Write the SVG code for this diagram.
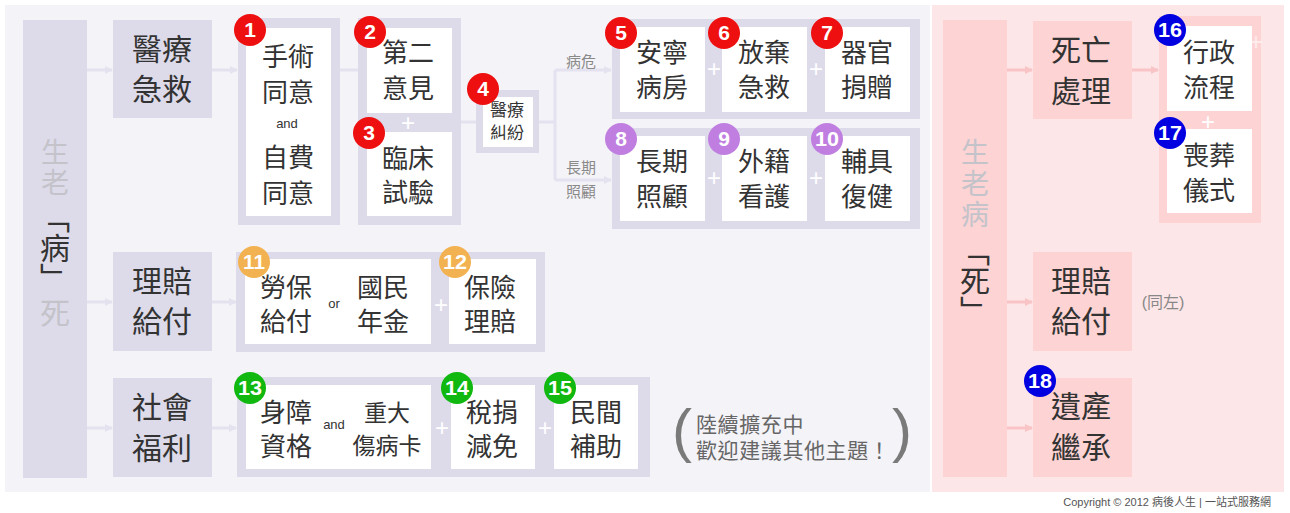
<svg xmlns="http://www.w3.org/2000/svg" width="1290" height="513" viewBox="0 0 1290 513">
<defs>
<style>
.t{font-family:'Liberation Sans','Noto Sans CJK TC',sans-serif;fill:#333;text-anchor:middle}
.s30{font-size:30px}.s28{font-size:28px}.s26{font-size:26px}.s23{font-size:23px}.s17{font-size:17px}.s13{font-size:13px}
.gray{fill:#c4c3ca}
.vert{font-family:'Noto Sans CJK TC',sans-serif;fill:#333;font-size:30px;writing-mode:vertical-rl;text-anchor:start}
.lbl{font-family:'Liberation Sans','Noto Sans CJK TC',sans-serif;fill:#8a8a8a;text-anchor:middle;font-size:15px}
.node{fill:#dddbea}.pnode{fill:#fdd3d4}
.box{fill:#fff}
.plus{font-family:'Liberation Sans',sans-serif;fill:#fff;font-size:24px;text-anchor:middle}
.bn{font-family:'Liberation Sans',sans-serif;font-weight:bold;fill:#fff;font-size:21px;text-anchor:middle}
.red{fill:#ee1010}.pur{fill:#c07fe0}.org{fill:#f3b251}.grn{fill:#10b810}.blu{fill:#0000e0}
.cL{stroke:#e4e2ef;stroke-width:3;fill:none}
.cP{stroke:#f8c4c6;stroke-width:3;fill:none}
</style>
<marker id="aL" viewBox="0 0 8 8" refX="7" refY="4" markerWidth="8" markerHeight="8" markerUnits="userSpaceOnUse" orient="auto"><path d="M0,0 L8,4 L0,8 z" fill="#e4e2ef"/></marker>
<marker id="aP" viewBox="0 0 8 8" refX="7" refY="4" markerWidth="8" markerHeight="8" markerUnits="userSpaceOnUse" orient="auto"><path d="M0,0 L8,4 L0,8 z" fill="#f8c4c6"/></marker>
</defs>
<rect width="1290" height="513" fill="#fff"/>
<rect x="5" y="5" width="925" height="487" fill="#f4f3f8"/>
<rect x="932" y="5" width="352" height="487" fill="#fde6e7"/>

<g id="connectors">
<path class="cL" d="M87,70 H112" marker-end="url(#aL)"/>
<path class="cL" d="M212,70 H237" marker-end="url(#aL)"/>
<path class="cL" d="M340,70 H358"/>
<path class="cL" d="M461,122 H476"/>
<path class="cL" d="M539,122 H555 M555,70 V180"/>
<path class="cL" d="M555,70 H611" marker-end="url(#aL)"/>
<path class="cL" d="M555,180 H611" marker-end="url(#aL)"/>
<path class="cL" d="M87,302 H112" marker-end="url(#aL)"/>
<path class="cL" d="M212,302 H236" marker-end="url(#aL)"/>
<path class="cL" d="M87,428 H112" marker-end="url(#aL)"/>
<path class="cL" d="M212,428 H236" marker-end="url(#aL)"/>
<path class="cP" d="M1007,70 H1032" marker-end="url(#aP)"/>
<path class="cP" d="M1132,70 H1158" marker-end="url(#aP)"/>
<path class="cP" d="M1007,302 H1032" marker-end="url(#aP)"/>
<path class="cP" d="M1007,428 H1032" marker-end="url(#aP)"/>
</g>

<g id="bar-left">
<rect class="node" x="23" y="20" width="64" height="458"/>
<text class="t s28 gray" x="55" y="163">生</text>
<text class="t s28 gray" x="55" y="193">老</text>
<text class="vert" x="55" y="203">「病」</text>
<text class="t s30 gray" x="55" y="324">死</text>
</g>

<g id="n-emergency">
<rect class="node" x="113" y="20" width="99" height="98"/>
<text class="t s30" x="162" y="60">醫療</text>
<text class="t s30" x="162" y="100">急救</text>
</g>

<g id="g1">
<rect class="node" x="238" y="18" width="102" height="207"/>
<rect class="box" x="246" y="28" width="85" height="188"/>
<text class="t s26" x="288" y="66">手術</text>
<text class="t s26" x="288" y="102">同意</text>
<text class="t s13" x="287" y="128">and</text>
<text class="t s26" x="288" y="167">自費</text>
<text class="t s26" x="288" y="203">同意</text>
<circle class="red" cx="250" cy="30" r="16"/><text class="bn" x="250" y="37">1</text>
</g>

<g id="g2">
<rect class="node" x="358" y="18" width="103" height="207"/>
<rect class="box" x="367" y="28" width="85" height="85"/>
<rect class="box" x="367" y="132" width="85" height="84"/>
<text class="plus" x="408" y="131">+</text>
<text class="t s26" x="408" y="62">第二</text>
<text class="t s26" x="408" y="98">意見</text>
<text class="t s26" x="408" y="168">臨床</text>
<text class="t s26" x="408" y="202">試驗</text>
<circle class="red" cx="370" cy="32" r="16"/><text class="bn" x="370" y="39">2</text>
<circle class="red" cx="369" cy="133" r="16"/><text class="bn" x="369" y="140">3</text>
</g>

<g id="g4">
<rect class="node" x="476" y="90" width="63" height="63"/>
<rect class="box" x="483" y="97" width="50" height="50"/>
<text class="t s17" x="507" y="116">醫療</text>
<text class="t s17" x="507" y="139">糾紛</text>
<circle class="red" cx="483" cy="89" r="16"/><text class="bn" x="483" y="96">4</text>
</g>

<g id="branch-labels">
<text class="lbl" x="581" y="67">病危</text>
<text class="lbl" x="581" y="173">長期</text>
<text class="lbl" x="581" y="197">照顧</text>
</g>

<g id="g5">
<rect class="node" x="612" y="19" width="308" height="100"/>
<rect class="box" x="620" y="27" width="85" height="85"/>
<rect class="box" x="722" y="27" width="85" height="85"/>
<rect class="box" x="825" y="27" width="85" height="85"/>
<text class="plus" x="714" y="77">+</text>
<text class="plus" x="816" y="77">+</text>
<text class="t s26" x="662" y="62">安寧</text>
<text class="t s26" x="662" y="97">病房</text>
<text class="t s26" x="764" y="62">放棄</text>
<text class="t s26" x="764" y="97">急救</text>
<text class="t s26" x="867" y="62">器官</text>
<text class="t s26" x="867" y="97">捐贈</text>
<circle class="red" cx="621" cy="33" r="16"/><text class="bn" x="621" y="40">5</text>
<circle class="red" cx="724" cy="33" r="16"/><text class="bn" x="724" y="40">6</text>
<circle class="red" cx="827" cy="33" r="16"/><text class="bn" x="827" y="40">7</text>
</g>

<g id="g8">
<rect class="node" x="612" y="128" width="308" height="101"/>
<rect class="box" x="620" y="136" width="85" height="85"/>
<rect class="box" x="722" y="136" width="85" height="85"/>
<rect class="box" x="825" y="136" width="85" height="85"/>
<text class="plus" x="714" y="186">+</text>
<text class="plus" x="816" y="186">+</text>
<text class="t s26" x="662" y="171">長期</text>
<text class="t s26" x="662" y="206">照顧</text>
<text class="t s26" x="764" y="171">外籍</text>
<text class="t s26" x="764" y="206">看護</text>
<text class="t s26" x="867" y="171">輔具</text>
<text class="t s26" x="867" y="206">復健</text>
<circle class="pur" cx="621" cy="139" r="16"/><text class="bn" x="621" y="146">8</text>
<circle class="pur" cx="724" cy="139" r="16"/><text class="bn" x="724" y="146">9</text>
<circle class="pur" cx="827" cy="139" r="16"/><text class="bn" x="827" y="146" textLength="24" lengthAdjust="spacingAndGlyphs">10</text>
</g>

<g id="n-claims">
<rect class="node" x="113" y="252" width="99" height="99"/>
<text class="t s30" x="162" y="292">理賠</text>
<text class="t s30" x="162" y="332">給付</text>
</g>

<g id="g11">
<rect class="node" x="236" y="252" width="309" height="100"/>
<rect class="box" x="245" y="259" width="186" height="85"/>
<rect class="box" x="449" y="259" width="87" height="85"/>
<text class="plus" x="441" y="313">+</text>
<text class="t s26" x="286" y="297">勞保</text>
<text class="t s26" x="286" y="331">給付</text>
<text class="t s13" x="334" y="308">or</text>
<text class="t s26" x="383" y="297">國民</text>
<text class="t s26" x="383" y="331">年金</text>
<text class="t s26" x="490" y="297">保險</text>
<text class="t s26" x="490" y="331">理賠</text>
<circle class="org" cx="254" cy="262" r="16"/><text class="bn" x="254" y="269" textLength="22" lengthAdjust="spacingAndGlyphs">11</text>
<circle class="org" cx="455" cy="262" r="16"/><text class="bn" x="455" y="269" textLength="24" lengthAdjust="spacingAndGlyphs">12</text>
</g>

<g id="n-welfare">
<rect class="node" x="113" y="378" width="99" height="99"/>
<text class="t s30" x="162" y="418">社會</text>
<text class="t s30" x="162" y="459">福利</text>
</g>

<g id="g13">
<rect class="node" x="237" y="377" width="413" height="100"/>
<rect class="box" x="246" y="385" width="185" height="84"/>
<rect class="box" x="451" y="385" width="84" height="84"/>
<rect class="box" x="554" y="385" width="84" height="84"/>
<text class="plus" x="442" y="436">+</text>
<text class="plus" x="545" y="436">+</text>
<text class="t s26" x="286" y="422">身障</text>
<text class="t s26" x="286" y="456">資格</text>
<text class="t s13" x="334" y="429">and</text>
<text class="t s23" x="387" y="421">重大</text>
<text class="t s23" x="387" y="454">傷病卡</text>
<text class="t s26" x="492" y="422">稅捐</text>
<text class="t s26" x="492" y="456">減免</text>
<text class="t s26" x="596" y="422">民間</text>
<text class="t s26" x="596" y="456">補助</text>
<circle class="grn" cx="250" cy="388" r="16"/><text class="bn" x="250" y="395" textLength="24" lengthAdjust="spacingAndGlyphs">13</text>
<circle class="grn" cx="457" cy="388" r="16"/><text class="bn" x="457" y="395" textLength="24" lengthAdjust="spacingAndGlyphs">14</text>
<circle class="grn" cx="560" cy="388" r="16"/><text class="bn" x="560" y="395" textLength="24" lengthAdjust="spacingAndGlyphs">15</text>
</g>

<g id="note">
<text x="672" y="451" font-family="'Liberation Sans',sans-serif" font-size="60" fill="#7a7a7a">(</text>
<text x="696" y="432" font-family="'Liberation Sans','Noto Sans CJK TC',sans-serif" font-size="21" fill="#666" letter-spacing="0.6">陸續擴充中</text>
<text x="696" y="458" font-family="'Liberation Sans','Noto Sans CJK TC',sans-serif" font-size="21" fill="#666" letter-spacing="0.6">歡迎建議其他主題！</text>
<text x="892" y="451" font-family="'Liberation Sans',sans-serif" font-size="60" fill="#7a7a7a">)</text>
</g>

<g id="bar-right">
<rect class="pnode" x="943" y="20" width="64" height="457"/>
<text class="t s28 gray" x="975" y="163">生</text>
<text class="t s28 gray" x="975" y="194">老</text>
<text class="t s28 gray" x="975" y="225">病</text>
<text class="vert" x="975" y="236">「死」</text>
</g>

<g id="n-death">
<rect class="pnode" x="1033" y="21" width="99" height="98"/>
<text class="t s30" x="1081" y="61">死亡</text>
<text class="t s30" x="1081" y="102">處理</text>
</g>

<g id="g16">
<rect class="pnode" x="1159" y="16" width="102" height="207"/>
<rect class="box" x="1167" y="26" width="85" height="85"/>
<rect class="box" x="1167" y="129" width="85" height="84"/>
<text class="plus" x="1208" y="130">+</text>
<text class="plus" x="1256" y="50" opacity="0.6" font-size="20">+</text>
<text class="t s26" x="1209" y="62">行政</text>
<text class="t s26" x="1209" y="97">流程</text>
<text class="t s26" x="1209" y="165">喪葬</text>
<text class="t s26" x="1209" y="200">儀式</text>
<circle class="blu" cx="1170" cy="30" r="16"/><text class="bn" x="1170" y="37" textLength="24" lengthAdjust="spacingAndGlyphs">16</text>
<circle class="blu" cx="1170" cy="133" r="16"/><text class="bn" x="1170" y="140" textLength="24" lengthAdjust="spacingAndGlyphs">17</text>
</g>

<g id="n-claims-right">
<rect class="pnode" x="1033" y="252" width="99" height="99"/>
<text class="t s30" x="1081" y="292">理賠</text>
<text class="t s30" x="1081" y="332">給付</text>
<text x="1163" y="308" font-family="'Liberation Sans','Noto Sans CJK TC',sans-serif" font-size="16" fill="#888" text-anchor="middle">(同左)</text>
</g>

<g id="n-estate">
<rect class="pnode" x="1033" y="378" width="99" height="99"/>
<text class="t s30" x="1081" y="417">遺產</text>
<text class="t s30" x="1081" y="458">繼承</text>
<circle class="blu" cx="1040" cy="381" r="16"/><text class="bn" x="1040" y="388" textLength="24" lengthAdjust="spacingAndGlyphs">18</text>
</g>

<text x="1271" y="506" font-family="'Liberation Sans','Noto Sans CJK TC',sans-serif" font-size="11" fill="#555" text-anchor="end">Copyright © 2012 病後人生 | 一站式服務網</text>
</svg>
